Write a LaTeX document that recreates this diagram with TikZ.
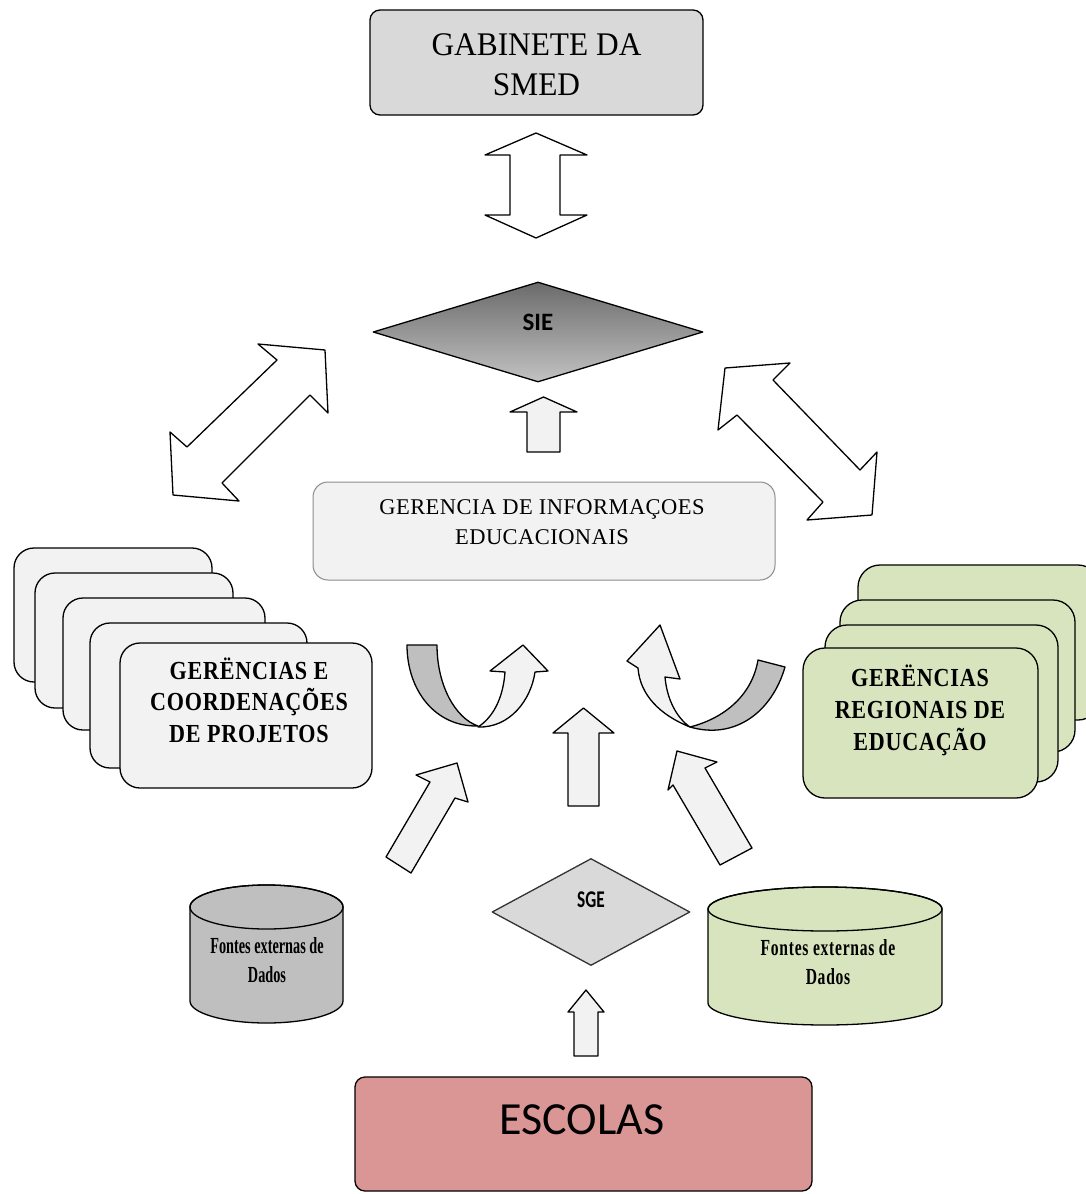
\documentclass[tikz,border=0pt]{standalone}
\usepackage{fontspec}
\setmainfont{Liberation Serif}
\newfontfamily\sansfam{Carlito}
\newfontfamily\sansnarrow[FakeStretch=0.72]{Carlito}
\newfontfamily\serifnarrow[FakeStretch=0.62]{Liberation Serif}
\newfontfamily\serifnarrowspaced[FakeStretch=0.68, LetterSpace=3]{Liberation Serif}
\newfontfamily\serifheading[FakeStretch=0.95]{Liberation Serif}
\newfontfamily\serifspaced[LetterSpace=2]{Liberation Serif}
\newfontfamily\serifboldspaced[FakeStretch=0.85, LetterSpace=3]{Liberation Serif}
\usetikzlibrary{shapes.geometric}

\definecolor{boxgray}{HTML}{D9D9D9}
\definecolor{palegray}{HTML}{F2F2F2}
\definecolor{midgray}{HTML}{BFBFBF}
\definecolor{olivelight}{HTML}{D7E4BD}
\definecolor{rosered}{HTML}{D99694}
\definecolor{edgegray}{HTML}{8C8C8C}

\tikzset{
  outline/.style={draw=black, line width=1.3pt, line join=round},
  card/.style={outline, rectangle, rounded corners=20pt, inner sep=0pt, fill=palegray},
  greencard/.style={card, rounded corners=22pt, fill=olivelight},
  plainbox/.style={outline, rectangle, rounded corners=10pt, inner sep=0pt},
  blockarrow/.style={outline, fill=palegray},
  hollowarrow/.style={outline, fill=white},
  caption/.style={align=center, inner sep=0pt, text=black},
}

\begin{document}
\begin{tikzpicture}[x=1pt, y=-1pt]
\useasboundingbox (0,0) rectangle (1085,1194);
\fill[white] (0,0) rectangle (1085,1194);

% ---- top: cabinet box ----
\node[plainbox, fill=boxgray, minimum width=333pt, minimum height=105pt] (gabinete) at (536.5,62.5) {};
\node[caption, font=\serifheading\fontsize{33}{40}\selectfont] (gabtxt) at (536.5,65) {GABINETE DA\\SMED};

% two-way arrow between cabinet and SIE
\filldraw[hollowarrow] (536,133) -- (587,155) -- (560,155) -- (560,215) -- (587,215)
  -- (536,238) -- (485,215) -- (510,215) -- (510,155) -- (485,155) -- cycle;

% ---- SIE diamond ----
\node[diamond, outline, inner sep=0pt, minimum width=330pt, minimum height=100pt,
      top color=black!58, middle color=black!30, bottom color=black!24] (sie) at (538,332) {};
\node[caption, font=\sansfam\bfseries\fontsize{25}{28}\selectfont] (sietxt) at (538,322) {SIE};

% diagonal two-way arrows
\filldraw[hollowarrow] (325,350) -- (328,413) -- (310,395) -- (222,483) -- (239,501)
  -- (173,495) -- (170,432) -- (187,447) -- (277,360) -- (258,344) -- cycle;
\filldraw[hollowarrow] (725,368) -- (790,363) -- (773,380) -- (860,470) -- (877,452)
  -- (872,515) -- (807,520) -- (823,502) -- (737,415) -- (718,430) -- cycle;

% arrow from management up to SIE
\filldraw[blockarrow] (543.5,397) -- (577,412) -- (560,412) -- (560,452) -- (527,452)
  -- (527,412) -- (510,412) -- cycle;

% ---- central management box ----
\node[rectangle, rounded corners=15pt, inner sep=0pt, fill=palegray, draw=edgegray, line width=1pt,
      minimum width=462pt, minimum height=98pt] (gie) at (544,531) {};
\node[caption, font=\serifspaced\fontsize{22.5}{30}\selectfont] (gietxt) at (542,522)
  {GERENCIA DE INFORMAÇOES\\EDUCACIONAIS};

% ---- left stack of project cards ----
\node[card, minimum width=198pt, minimum height=134pt] (p1) at (113,615) {};
\node[card, minimum width=198pt, minimum height=135pt] (p2) at (134,640.5) {};
\node[card, minimum width=202pt, minimum height=132pt] (p3) at (164,664) {};
\node[card, minimum width=217pt, minimum height=145pt] (p4) at (198.5,695.5) {};
\node[card, minimum width=252pt, minimum height=145pt] (p5) at (246,715.5) {};
\node[caption, font=\serifboldspaced\bfseries\fontsize{26}{31.5}\selectfont] (p5txt) at (249,700)
  {GERËNCIAS E\\COORDENAÇÕES\\DE PROJETOS};

% ---- right stack of regional cards ----
\node[greencard, minimum width=242pt, minimum height=155pt] (r1) at (979,642.5) {};
\node[greencard, minimum width=235pt, minimum height=152pt] (r2) at (957.5,676) {};
\node[greencard, minimum width=233pt, minimum height=157pt] (r3) at (941.5,703.5) {};
\node[greencard, minimum width=235pt, minimum height=150pt] (r4) at (920.5,723) {};
\node[caption, font=\serifboldspaced\bfseries\fontsize{26}{32}\selectfont] (r4txt) at (920,710)
  {GERËNCIAS\\REGIONAIS DE\\EDUCAÇÃO};

% ---- twisted U-turn arrows ----
\filldraw[outline, fill=midgray] (407,645) -- (437,645) .. controls (437,685) and (455,718) .. (478,726)
  .. controls (435,727) and (407,690) .. (407,645) -- cycle;
\filldraw[blockarrow] (478,727) .. controls (510,728) and (531,700) .. (535,672) -- (548,671)
  -- (523,645) -- (490,671) -- (505,672) .. controls (503,700) and (492,718) .. (478,727) -- cycle;

\filldraw[outline, fill=midgray] (758,660) -- (785,667) .. controls (772,712) and (735,740) .. (690,727)
  .. controls (725,718) and (752,695) .. (758,660) -- cycle;
\filldraw[blockarrow] (690,727) .. controls (660,715) and (640,695) .. (638,668) -- (627,661)
  -- (660,625) -- (680,679) -- (665,677) .. controls (667,700) and (677,718) .. (690,727) -- cycle;

% ---- upward arrows feeding the management box ----
\filldraw[blockarrow] (583.5,708) -- (614,733) -- (599,733) -- (599,806) -- (568,806)
  -- (568,733) -- (553,733) -- cycle;
\filldraw[blockarrow] (457,763) -- (468,802) -- (455,798) -- (411,873) -- (386,857)
  -- (430,782) -- (416,775) -- cycle;
\filldraw[blockarrow] (677,751) -- (717,762) -- (705,768) -- (752,848) -- (720,865)
  -- (673,785) -- (668,790) -- cycle;

% ---- data sources ----
\filldraw[outline, fill=midgray] (190,907) -- (190,1001)
  arc[start angle=180, end angle=0, x radius=76.5, y radius=22] -- (343,907)
  arc[start angle=0, end angle=-180, x radius=76.5, y radius=22] -- cycle;
\draw[outline] (266.5,907) ellipse[x radius=76.5, y radius=22];
\node[caption, font=\serifnarrow\bfseries\fontsize{23}{29}\selectfont] (src1) at (267,960)
  {Fontes externas de\\Dados};

\filldraw[outline, fill=olivelight] (708,909) -- (708,1003)
  arc[start angle=180, end angle=0, x radius=117, y radius=22] -- (942,909)
  arc[start angle=0, end angle=-180, x radius=117, y radius=22] -- cycle;
\draw[outline] (825,909) ellipse[x radius=117, y radius=22];
\node[caption, font=\serifnarrowspaced\bfseries\fontsize{23}{29}\selectfont] (src2) at (828,962)
  {Fontes externas de\\Dados};

% ---- SGE diamond ----
\node[diamond, outline, draw=black!80, inner sep=0pt, minimum width=198pt, minimum height=107pt,
      fill=boxgray] (sge) at (591,912) {};
\node[caption, font=\sansnarrow\bfseries\fontsize{24}{28}\selectfont] (sgetxt) at (591,900) {SGE};

% arrow from schools up to SGE
\filldraw[blockarrow] (586,990) -- (604,1012) -- (598,1012) -- (598,1056) -- (574,1056)
  -- (574,1012) -- (568,1012) -- cycle;

% ---- schools ----
\node[plainbox, fill=rosered, minimum width=457pt, minimum height=114pt] (escolas) at (583.5,1134) {};
\node[caption, font=\sansfam\fontsize{46}{50}\selectfont] (esctxt) at (582,1120) {ESCOLAS};
\end{tikzpicture}
\end{document}
